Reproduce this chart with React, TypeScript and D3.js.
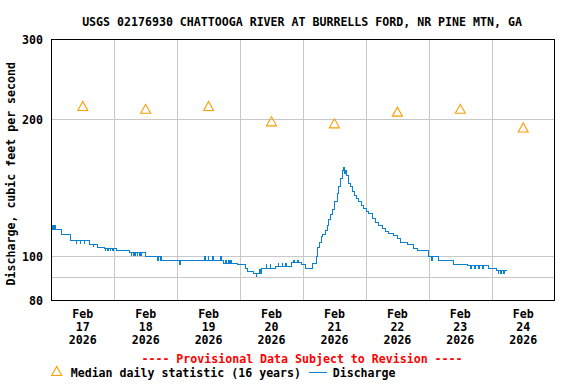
import React from "react";
import * as d3 from "d3";

const title = "USGS 02176930 CHATTOOGA RIVER AT BURRELLS FORD, NR PINE MTN, GA";
const yLabel = "Discharge, cubic feet per second";
const dayLabels = ["17", "18", "19", "20", "21", "22", "23", "24"];
const monthLabel = "Feb";
const yearLabel = "2026";
const yTicks = [80, 100, 200, 300];
const yGrid = [90, 100, 200];
const medianValues = [214, 211, 214, 198, 196, 208, 211, 192];

// hours since Feb 17 00:00, step series
const hours = [
  0, 0.25, 0.5, 0.75, 1.25, 1.5, 2.5, 3.9, 7.3, 9.5, 9.75, 11, 11.25, 12.5, 12.75,
  14.5, 16, 16.25, 17.7, 20.2, 20.5, 20.75, 21.5, 21.75, 22.5, 22.75, 23.5, 23.75,
  24.7, 29.8, 30.4, 30.65, 31.2, 31.45, 31.9, 32.15, 32.7, 32.95, 33.5, 33.75, 34.2, 34.45,
  36.1, 40.6, 40.9, 41.5, 41.75, 42, 48.8, 49.1, 58.4, 58.7, 59.8, 60.1, 61.5, 61.8,
  64.5, 64.8, 65.6, 66.5, 66.8, 67.5, 67.8, 68.5, 68.8, 70.9, 73.9, 75.0, 77, 78.1, 78.4,
  79.5, 79.75, 80.1, 82, 82.25, 83.5, 83.75, 85.4, 86.5, 86.75, 88, 88.25, 89.5, 89.75,
  91.6, 92.5, 92.75, 94, 94.25, 95.6, 96.8, 99.8, 101.3, 101.7, 102.4, 103.2, 103.6, 104.4,
  105.2, 105.6, 106.3, 107.1, 107.5, 108.2, 109.0, 109.4, 110.2, 110.9, 111.3, 111.7, 112.1,
  112.5, 113.2, 114.0, 114.8, 115.5, 116.3, 117.1, 118.2, 119.0, 120.1, 120.9, 122.4, 123.5,
  124.7, 126.2, 127.3, 128.5, 130.4, 131.9, 133.1, 135.8, 138.0, 139.6, 143.8, 145, 145.25,
  147.7, 153.4, 158.7, 160, 160.25, 161.5, 161.75, 163, 163.25, 164.5, 164.75, 166.9, 169.9,
  170.5, 170.75, 171.5, 171.75, 172.5, 172.75, 173.9
];
const cfs = [
  115.8, 114.6, 117, 114.6, 117, 114.6, 114.6, 111.7, 108.4, 106.8, 108.4, 106.8, 108.4, 106.8, 108.4,
  106.0, 105.1, 106.0, 104.6, 104.1, 103, 104.1, 103, 104.1, 103, 104.1, 103, 104.1,
  103.0, 101.9, 100.4, 101.9, 100.4, 101.9, 100.4, 101.9, 100.4, 101.9, 100.4, 101.9, 100.4, 101.9,
  99.7, 98.0, 99.7, 98.0, 99.7, 98.0, 96.1, 98.0, 99.7, 98, 99.7, 98, 99.7, 98,
  99.7, 98, 96.6, 98, 96.6, 98, 96.6, 98, 96.6, 96.1, 94.0, 92.4, 91.8, 90.1, 91.8,
  93.4, 91.8, 94.0, 96.1, 94, 96.1, 94, 94.9, 96.6, 94.9, 96.6, 94.9, 96.6, 94.9,
  97.0, 98, 97, 98, 97, 96.1, 94.0, 96.5, 99.7, 104.6, 107.3, 110.3, 111.7, 114.0,
  117.0, 120.6, 123.3, 126.4, 126.9, 131.8, 137.5, 142.1, 148.3, 154.5, 156.7, 152.0, 154.5,
  150.8, 144.6, 142.1, 138.6, 136.3, 134.1, 131.8, 129.6, 127.5, 125.3, 123.9, 121.2, 118.6,
  117.0, 115.3, 113.3, 112.2, 111.3, 109.2, 107.3, 106.0, 104.0, 103.0, 99.7, 98, 99.7,
  98.0, 96.1, 95.6, 94, 95.6, 94, 95.6, 94, 95.6, 94, 95.6, 94.0, 92.8,
  91.8, 92.8, 91.8, 92.8, 91.8, 92.8, 92.8
];

const legendMedian = "Median daily statistic (16 years)";
const legendDischarge = "Discharge";
const provisional = "---- Provisional Data Subject to Revision ----";

const W = 576, H = 384;
const L = 51.3, R = 554.7, T = 39.3, B = 300.3;
const FONT = "'DejaVu Sans Mono', monospace";
const FS = 11.6;

export default function App() {
  const x = d3.scaleLinear().domain([0, 192]).range([L, R]);
  const y = d3.scaleLog().domain([80, 300]).range([B, T]);
  const data = hours.map((h, i) => [h, cfs[i]] as [number, number]);
  const line = d3.line<[number, number]>()
    .x(d => x(d[0]))
    .y(d => y(d[1]))
    .curve(d3.curveStepAfter);
  const tri = "M-5,4.5L0,-4.5L5,4.5Z";
  const dayGrid = d3.range(24, 192, 24);
  const blue = "#0a80d0";
  const orange = "#ff9c00";

  return (
    <svg width={W} height={H} style={{ position: "absolute", left: 0, top: 0, background: "#fff" }}
      fontFamily={FONT} fontWeight="bold" fontSize={FS}>
      <text x={302} y={26} textAnchor="middle" fill="#000">{title}</text>
      <g shapeRendering="crispEdges">
        {yGrid.map(v => (
          <line key={"h" + v} x1={L} x2={R} y1={Math.round(y(v)) + 0.5} y2={Math.round(y(v)) + 0.5}
            stroke="#c8c8c8" strokeWidth={1} />
        ))}
        {dayGrid.map(h => (
          <line key={"v" + h} x1={Math.round(x(h)) + 0.5} x2={Math.round(x(h)) + 0.5} y1={T} y2={B}
            stroke="#c8c8c8" strokeWidth={1} />
        ))}
      </g>
      <path d={line(data) || ""} fill="none" stroke={blue} strokeWidth={1} shapeRendering="crispEdges" />
      {medianValues.map((v, i) => (
        <path key={"m" + i} d={tri} transform={`translate(${x(i * 24 + 12)},${y(v)})`}
          fill="none" stroke={orange} strokeWidth={1.1} />
      ))}
      <rect x={51.5} y={39.5} width={503} height={261} fill="none" stroke="#000" strokeWidth={1.3}
        shapeRendering="crispEdges" />
      {yTicks.map(v => (
        <text key={"yt" + v} x={43} y={y(v) + 5} textAnchor="end" fill="#000">{v}</text>
      ))}
      {dayLabels.map((d, i) => {
        const cx = x(i * 24 + 12);
        return (
          <g key={"xl" + d}>
            <text x={cx} y={318} textAnchor="middle" fill="#000">{monthLabel}</text>
            <text x={cx} y={331} textAnchor="middle" fill="#000">{d}</text>
            <text x={cx} y={344} textAnchor="middle" fill="#000">{yearLabel}</text>
          </g>
        );
      })}
      <text transform={`translate(15,${173.7}) rotate(-90)`} textAnchor="middle" fill="#000">{yLabel}</text>
      <text x={302} y={363} textAnchor="middle" fill="#ff0000">{provisional}</text>
      <path d={tri} transform="translate(56.7,371)" fill="none" stroke={orange} strokeWidth={1.1} />
      <text x={70.7} y={377} fill="#000">{legendMedian}</text>
      <line x1={309} x2={327} y1={372.5} y2={372.5} stroke={blue} strokeWidth={1} />
      <text x={332.7} y={377} fill="#000">{legendDischarge}</text>
    </svg>
  );
}
